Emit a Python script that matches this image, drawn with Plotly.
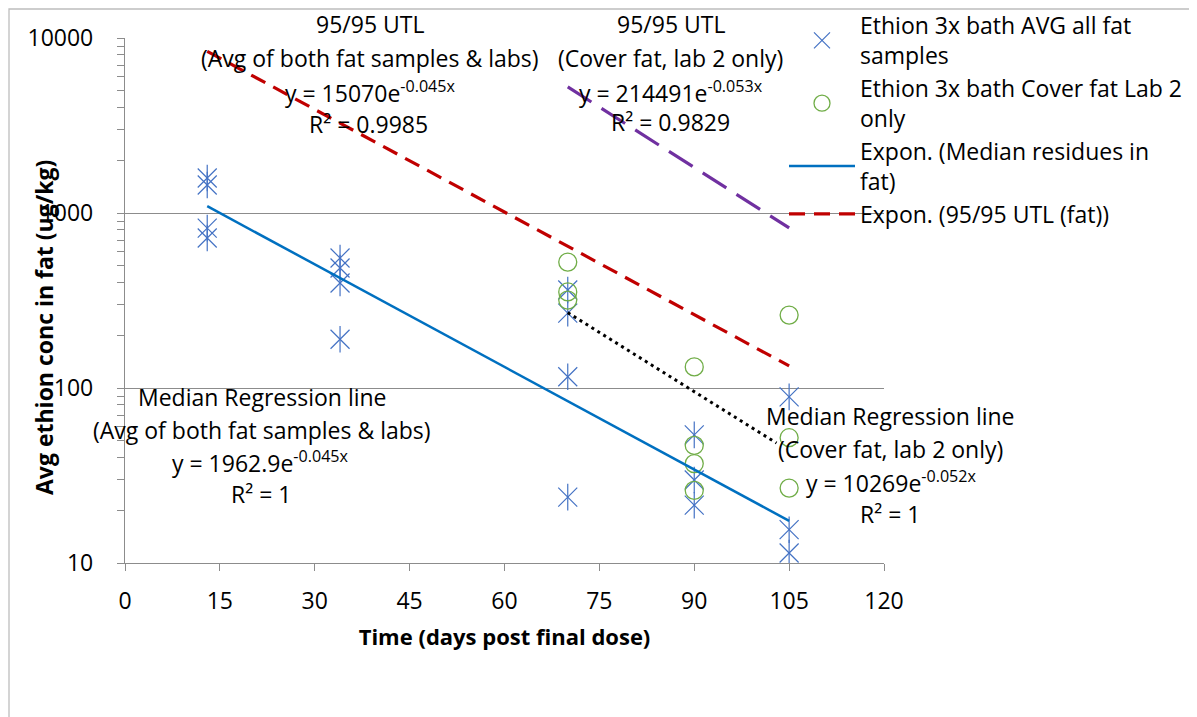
import math
import plotly.graph_objects as go

# measured points (days post final dose, ug/kg)
avg_x = [13, 13, 13, 13, 34, 34, 34, 34, 70, 70, 70, 70, 90, 90, 90, 105, 105, 105]
avg_y = [1585, 1445, 820, 720, 553, 485, 398, 190, 363, 268, 116, 23.8, 54, 29.8, 21.4, 89, 15.5, 11.4]

cover_x = [70, 70, 70, 90, 90, 90, 90, 105, 105, 105]
cover_y = [524, 354, 318, 132, 47, 37, 26, 261, 52, 26.8]

# trendline coefficients (y = a*exp(b*x)) and x extents, as shown on the chart
median_fit = (1962.9, -0.045, 13, 105)
utl_fit = (15070, -0.045, 13, 105)
cover_utl_fit = (214491, -0.053, 70, 105)
cover_median_fit = (10269, -0.052, 70, 103)


def fit_line(f):
    a, b, x0, x1 = f
    xs = [x0, x1]
    return xs, [a * math.exp(b * x) for x in xs]


FONT = "Open Sans"
FS = 23
fig = go.Figure()

fig.add_trace(go.Scatter(x=avg_x, y=avg_y, mode="markers", name="Ethion 3x bath AVG all fat<br>samples",
                         marker=dict(symbol="x-thin-open", size=19, color="#4472C4",
                                     line=dict(width=1.2, color="#4472C4"))))
fig.add_trace(go.Scatter(x=avg_x, y=avg_y, mode="markers", showlegend=False, hoverinfo="skip",
                         marker=dict(symbol="line-ns-open", size=19, color="#4472C4",
                                     line=dict(width=1.2, color="#4472C4"))))
fig.add_trace(go.Scatter(x=cover_x, y=cover_y, mode="markers", name="Ethion 3x bath Cover fat Lab 2<br>only",
                         marker=dict(symbol="circle-open", size=18, color="#70AD47",
                                     line=dict(width=1.3, color="#70AD47"))))

x, y = fit_line(median_fit)
fig.add_trace(go.Scatter(x=x, y=y, mode="lines", name="Expon. (Median residues in<br>fat)",
                         line=dict(color="#0070C0", width=2.5)))
x, y = fit_line(utl_fit)
fig.add_trace(go.Scatter(x=x, y=y, mode="lines", name="Expon. (95/95 UTL (fat))",
                         line=dict(color="#C00000", width=3.2, dash="16px,9px")))
x, y = fit_line(cover_utl_fit)
fig.add_trace(go.Scatter(x=x, y=y, mode="lines", showlegend=False,
                         line=dict(color="#7030A0", width=3.2, dash="28px,12px")))
x, y = fit_line(cover_median_fit)
fig.add_trace(go.Scatter(x=x, y=y, mode="lines", showlegend=False,
                         line=dict(color="black", width=3, dash="3px,4px")))

# plot area in screen pixels; the page puts the figure 8px in from the corner
L, T, W, H = 125, 38, 759, 525
OFF = 8
FIG_W, FIG_H = 1197 - OFF, 717 - OFF


def px_to_paper(px, py):
    return (px - L) / W, (T + H - py) / H


# text labels: (text, px centre x, px centre y)
labels = [
    ("95/95 UTL", 370, 24),
    ("(Avg of both fat samples & labs)", 370, 58),
    ("y = 15070e<sup>-0.045x</sup>", 370, 92),
    ("R² = 0.9985", 368, 124),
    ("95/95 UTL", 671, 24),
    ("(Cover fat, lab 2 only)", 670, 58),
    ("y = 214491e<sup>-0.053x</sup>", 671, 92),
    ("R² = 0.9829", 670, 122),
    ("Median Regression line", 262, 397),
    ("(Avg of both fat samples & labs)", 262, 430),
    ("y = 1962.9e<sup>-0.045x</sup>", 260, 462),
    ("R² = 1", 261, 494),
    ("Median Regression line", 890, 416),
    ("(Cover fat, lab 2 only)", 890, 449),
    ("y = 10269e<sup>-0.052x</sup>", 891, 482),
    ("R² = 1", 890, 514),
]
for txt, px, py in labels:
    ax, ay = px_to_paper(px, py)
    fig.add_annotation(text=txt, xref="paper", yref="paper", x=ax, y=ay,
                       xanchor="center", yanchor="middle", showarrow=False,
                       font=dict(family=FONT, size=FS, color="black"))

# y axis title sits over the tick-label column, as in the original
ax, ay = px_to_paper(44, 328)
fig.add_annotation(text="<b>Avg ethion conc in fat (ug/kg)</b>", xref="paper", yref="paper",
                   x=ax, y=ay, xanchor="center", yanchor="middle", textangle=-90, showarrow=False,
                   font=dict(family=FONT, size=23, color="black"))

# outer chart border (kept inside the figure's own canvas)
x0, y1 = px_to_paper(OFF + 1, OFF + 1)
x1, y0 = px_to_paper(1190, OFF + FIG_H + 20)
fig.add_shape(type="rect", xref="paper", yref="paper", x0=x0, x1=x1, y0=y0, y1=y1,
              line=dict(color="#BDBDBD", width=1.3), fillcolor="rgba(0,0,0,0)", layer="above")

lx, ly = px_to_paper(784, 4)
fig.update_layout(
    width=FIG_W, height=FIG_H,
    margin=dict(l=L - OFF, r=FIG_W - (L - OFF) - W, t=T - OFF, b=FIG_H - (T - OFF) - H, autoexpand=False),
    paper_bgcolor="white", plot_bgcolor="white",
    font=dict(family=FONT, size=FS, color="black"),
    showlegend=True,
    legend=dict(x=lx, y=ly, xanchor="left", yanchor="top", bgcolor="rgba(0,0,0,0)",
                font=dict(family=FONT, size=FS), itemwidth=66, tracegroupgap=0),
)
fig.update_xaxes(range=[0, 120], tickvals=[0, 15, 30, 45, 60, 75, 90, 105, 120],
                 showgrid=False, showline=True, linecolor="#8C8C8C", linewidth=1.3,
                 ticks="outside", ticklen=7, tickcolor="#8C8C8C", zeroline=False,
                 ticklabelstandoff=10,
                 title=dict(text="<b>Time (days post final dose)</b>", font=dict(size=22), standoff=14))
fig.update_yaxes(type="log", range=[1, 4], tickvals=[10, 100, 1000, 10000],
                 ticktext=["10", "100", "1000", "10000"],
                 showgrid=True, gridcolor="#8C8C8C", gridwidth=1.3,
                 showline=True, linecolor="#8C8C8C", linewidth=1.3,
                 ticks="outside", ticklen=7, tickcolor="#8C8C8C", ticklabelstandoff=19,
                 minor=dict(ticks="outside", ticklen=7, tickcolor="#8C8C8C", dtick="D1", showgrid=False))

fig.write_html("out.html")
